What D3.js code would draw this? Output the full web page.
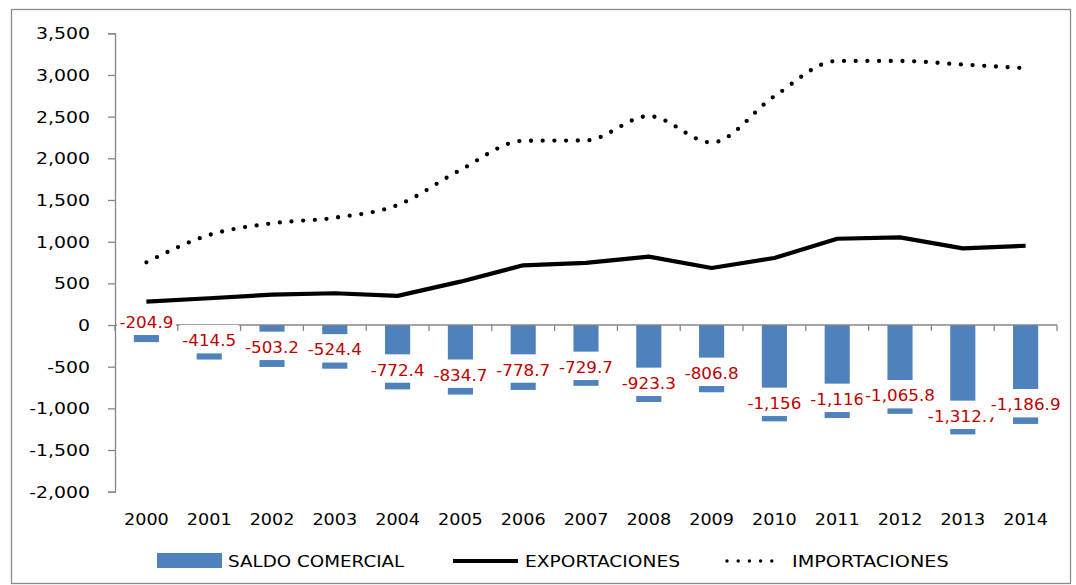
<!DOCTYPE html>
<html>
<head>
<meta charset="utf-8">
<script src="https://cdn.jsdelivr.net/npm/d3@7"></script>
<style>
  html, body { margin: 0; padding: 0; background: #fff; }
  svg { display: block; }
  text { font-family: "DejaVu Sans", sans-serif; }
</style>
</head>
<body>
<svg id="chart" width="1076" height="585"></svg>
<script>
// ---- data ----
const years = ["2000","2001","2002","2003","2004","2005","2006","2007","2008","2009","2010","2011","2012","2013","2014"];
const saldo = [-204.9,-414.5,-503.2,-524.4,-772.4,-834.7,-778.7,-729.7,-923.3,-806.8,-1156,-1116,-1065.8,-1312.7,-1186.9];
const saldoLabels = ["-204.9","-414.5","-503.2","-524.4","-772.4","-834.7","-778.7","-729.7","-923.3","-806.8","-1,156","-1,116","-1,065.8","-1,312.7","-1,186.9"];
const exportaciones = [280,321,364,381,349,520,716,745,820,684,804,1035,1052,920,951];
const importaciones = [752,1080,1220,1287,1439,1860,2210,2215,2506,2190,2745,3168,3168,3125,3081];
// label box anchor (value units, where each data label sits)
const labelAt = [50,-170,-250,-280,-522,-584,-522,-490,-682,-562,-922,-874,-830,-1078,-938];
const yTicks = [3500,3000,2500,2000,1500,1000,500,0,-500,-1000,-1500,-2000];
const seriesNames = ["SALDO COMERCIAL","EXPORTACIONES","IMPORTACIONES"];

// ---- layout ----
const svg = d3.select("#chart");
const L = 115, R = 1057, T = 33.3, B = 491.7;
const axisColor = "#868686";
const barColor = "#4F81BD";
const labelColor = "#C00000";

// helper: text stretched horizontally around its anchor
function stext(g, px, py, str, opt) {
  const t = g.append("text")
    .attr("transform", `translate(${px},${py}) scale(${opt.sx||1},1)`)
    .attr("x",0).attr("y",0)
    .attr("font-size", opt.fs || 16)
    .attr("fill", opt.fill || "#000")
    .attr("text-anchor", opt.anchor || "start")
    .text(str);
  return t;
}

// frame
svg.append("rect").attr("x",11.5).attr("y",9.5).attr("width",1059).attr("height",574)
  .attr("fill","none").attr("stroke","#8c8c8c").attr("stroke-width",1.3);

const x = d3.scaleBand().domain(years).range([L,R]).paddingInner(0.6).paddingOuter(0.3);
const xc = d3.scalePoint().domain(years).range([L,R]).padding(0.5);
const y = d3.scaleLinear().domain([-2000,3500]).range([B,T]);
const fmt = d3.format(",");

// y axis
const yAxis = d3.axisLeft(y).tickValues(yTicks).tickSize(7).tickFormat(()=>"");
const gy = svg.append("g").attr("transform",`translate(${L},0)`).call(yAxis);
gy.select(".domain").attr("stroke",axisColor).attr("stroke-width",1.3);
gy.selectAll(".tick line").attr("stroke",axisColor).attr("stroke-width",1.3);
const gyl = svg.append("g");
yTicks.forEach(v => stext(gyl, 90, y(v)+6, fmt(v).replace("−","-"), {fs:16, sx:1.18, anchor:"end"}));

// bars
svg.append("g").selectAll("rect").data(saldo).join("rect")
  .attr("x",(d,i)=>x(years[i]))
  .attr("width",x.bandwidth())
  .attr("y",d=>y(Math.max(0,d)))
  .attr("height",d=>Math.abs(y(d)-y(0)))
  .attr("fill",barColor);

// x axis (zero line) with ticks at category boundaries
const gx = svg.append("g");
gx.append("line").attr("x1",L).attr("x2",R).attr("y1",y(0)).attr("y2",y(0))
  .attr("stroke",axisColor).attr("stroke-width",1.3);
const step = (R-L)/years.length;
gx.selectAll("line.t").data(d3.range(years.length+1)).join("line").attr("class","t")
  .attr("x1",i=>L+i*step).attr("x2",i=>L+i*step)
  .attr("y1",y(0)).attr("y2",y(0)+6)
  .attr("stroke",axisColor).attr("stroke-width",1.3);

// category labels
const gxl = svg.append("g");
years.forEach(d => stext(gxl, xc(d), 525, d, {fs:16, sx:1.1, anchor:"middle"}));

// lines
const lineLin = d3.line().x((d,i)=>xc(years[i])).y(d=>y(d));
const lineSmooth = d3.line().x((d,i)=>xc(years[i])).y(d=>y(d)).curve(d3.curveMonotoneX);
svg.append("path").datum(exportaciones).attr("d",lineLin)
  .attr("fill","none").attr("stroke","#000").attr("stroke-width",4.2).attr("stroke-linejoin","round");
svg.append("path").datum(importaciones).attr("d",lineSmooth)
  .attr("fill","none").attr("stroke","#000").attr("stroke-width",4.3)
  .attr("stroke-linecap","round").attr("stroke-dasharray","0 11.7");

// data labels with white boxes
const fs = 15.5, lsx = 1.08;
const lg = svg.append("g");
saldo.forEach((v,i)=>{
  const cx = xc(years[i]);
  const cy = y(labelAt[i]);
  const g = lg.append("g");
  const t = stext(g, cx, cy+0.36*fs+1.5, saldoLabels[i], {fs:fs, sx:lsx, anchor:"middle", fill:labelColor});
  const w = t.node().getComputedTextLength()*lsx;
  g.insert("rect","text").attr("x",cx-w/2-2.5).attr("y",cy-14.2).attr("width",w+5).attr("height",28.4)
    .attr("fill","#fff");
});

// legend
const leg = svg.append("g");
leg.append("rect").attr("x",157).attr("y",553).attr("width",65).attr("height",15).attr("fill",barColor);
stext(leg, 228, 567, seriesNames[0], {fs:16, sx:1.145});
leg.append("line").attr("x1",453).attr("x2",518).attr("y1",561).attr("y2",561)
  .attr("stroke","#000").attr("stroke-width",4.2);
stext(leg, 525, 567, seriesNames[1], {fs:16, sx:1.165});
leg.append("line").attr("x1",727).attr("x2",783).attr("y1",561).attr("y2",561)
  .attr("stroke","#000").attr("stroke-width",3.4).attr("stroke-linecap","round").attr("stroke-dasharray","0 11.2");
stext(leg, 792, 567, seriesNames[2], {fs:16, sx:1.2});
</script>
</body>
</html>
